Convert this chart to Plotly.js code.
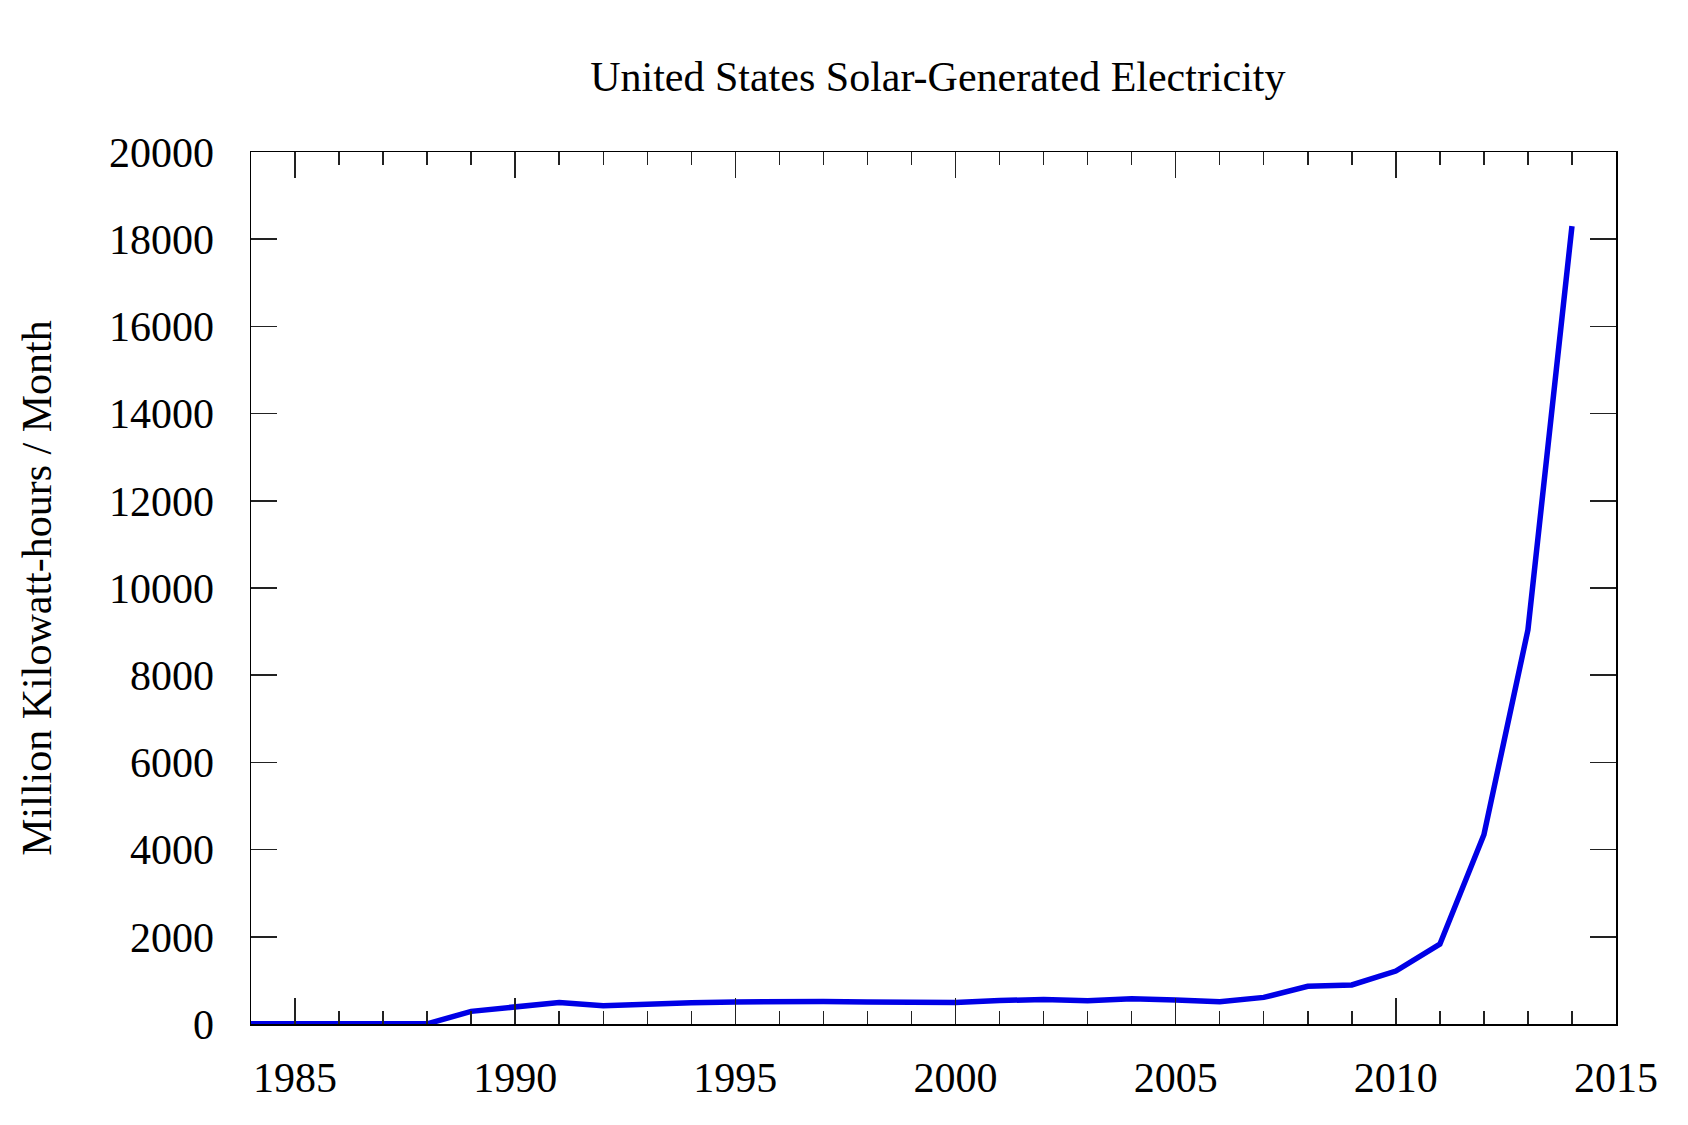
<!DOCTYPE html>
<html>
<head>
<meta charset="utf-8">
<script src="https://cdn.plot.ly/plotly-3.0.1.min.js"></script>
<style>
  html, body { margin: 0; padding: 0; background: #fff; }
  #chart { width: 1688px; height: 1125px; }
</style>
</head>
<body>
<div id="chart"></div>
<script>
// yearly solar generation
const years = [1984, 1985, 1986, 1987, 1988, 1989, 1990, 1991, 1992, 1993,
               1994, 1995, 1996, 1997, 1998, 1999, 2000, 2001, 2002, 2003,
               2004, 2005, 2006, 2007, 2008, 2009, 2010, 2011, 2012, 2013, 2014];
const generation = [3, 4, 5, 4, 3, 290, 390, 495, 420, 470,
                    490, 505, 525, 515, 505, 495, 495, 540, 560, 535,
                    580, 550, 510, 610, 865, 895, 1215, 1830, 4340, 9040, 18300];

const xTicks = [1985, 1990, 1995, 2000, 2005, 2010, 2015];
const yTicks = [0, 2000, 4000, 6000, 8000, 10000, 12000, 14000, 16000, 18000, 20000];

const serif = "Liberation Serif, Times New Roman, serif";

let solar = {
  x: years,
  y: generation,
  type: "scatter",
  mode: "lines",
  line: {color: "#0000e6", width: 5.5},
  hovertemplate: "Year: %{x}<br>Generation: %{y}<extra></extra>",
};

let layout = {
  width: 1688,
  height: 1125,
  paper_bgcolor: "#fff",
  plot_bgcolor: "#fff",
  showlegend: false,
  margin: {l: 251, r: 72, t: 152, b: 101},
  font: {family: serif, size: 42, color: "#000"},
  title: {
    text: "United States Solar-Generated Electricity",
    font: {family: serif, size: 42, color: "#000"},
    x: 0.5556, xref: "container", xanchor: "center",
    y: 0.932, yref: "container", yanchor: "middle",
  },
  xaxis: {
    range: [1984, 2015],
    tickvals: xTicks,
    ticktext: xTicks.map(String),
    ticks: "inside",
    ticklen: 26,
    tickwidth: 1.5,
    tickcolor: "#222",
    minor: {dtick: 1, ticks: "inside", ticklen: 13, tickwidth: 1.5, tickcolor: "#222", showgrid: false},
    showgrid: false,
    zeroline: false,
    showline: true,
    linecolor: "#000",
    linewidth: 1.5,
    mirror: "allticks",
    ticklabelstandoff: 16,
    tickfont: {family: serif, size: 42, color: "#000"},
  },
  yaxis: {
    range: [0, 20000],
    tickvals: yTicks,
    ticktext: yTicks.map(String),
    ticks: "inside",
    ticklen: 26,
    tickwidth: 1.5,
    tickcolor: "#222",
    showgrid: false,
    zeroline: false,
    showline: true,
    linecolor: "#000",
    linewidth: 1.5,
    mirror: "allticks",
    ticklabelstandoff: 27,
    tickfont: {family: serif, size: 42, color: "#000"},
    title: {
      text: "Million Kilowatt-hours / Month",
      font: {family: serif, size: 42, color: "#000"},
      standoff: 44,
    },
    automargin: false,
  },
};

Plotly.newPlot("chart", [solar], layout, {
  displaylogo: false,
  displayModeBar: false,
  staticPlot: true,
});
</script>
</body>
</html>
